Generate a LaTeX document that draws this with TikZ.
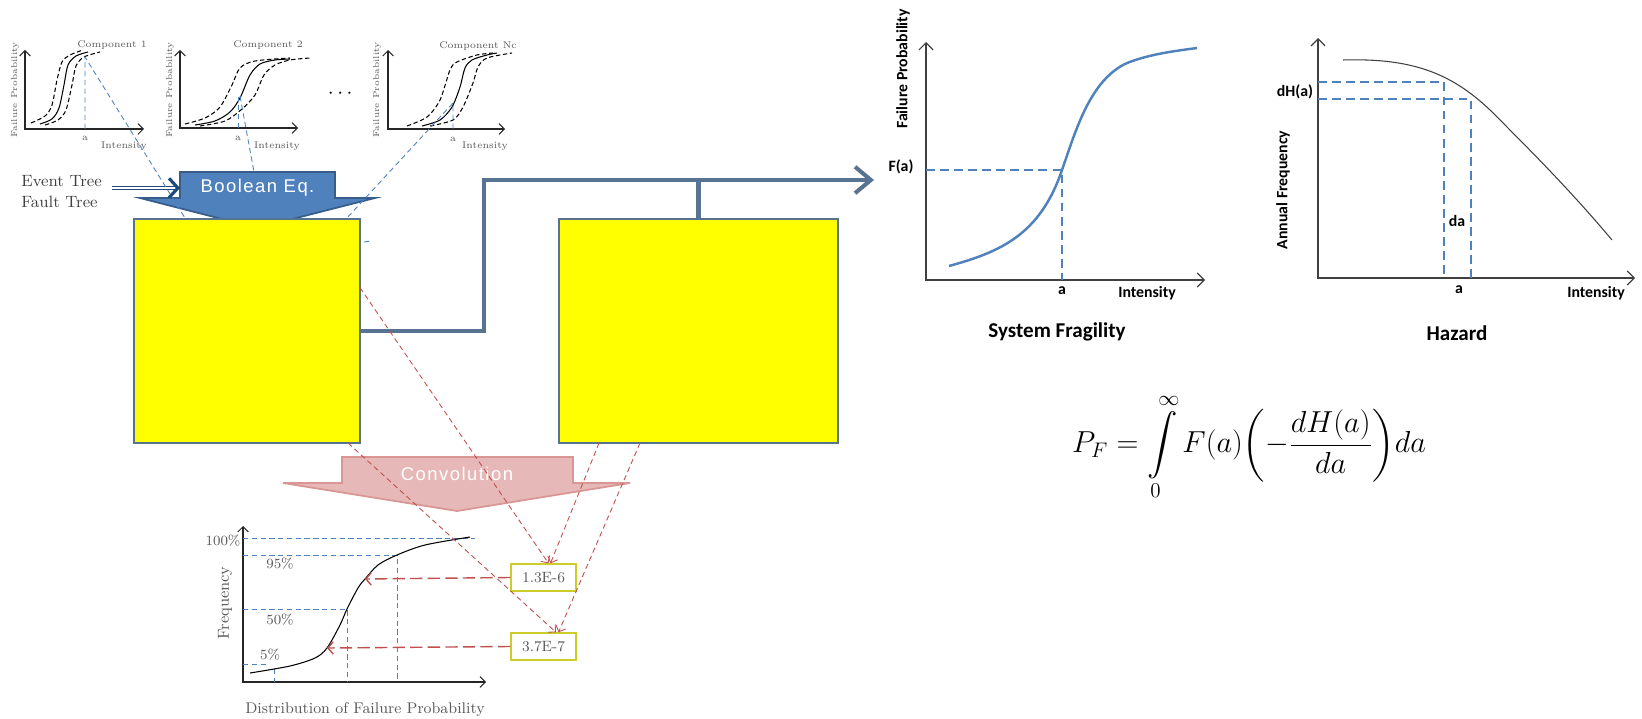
\documentclass[tikz,border=0pt]{standalone}
\usepackage{fontspec}
\usepackage{amsmath}
\usetikzlibrary{arrows.meta}
\newfontfamily\flechafont{Liberation Sans}[LetterSpace=8]
\newfontfamily\graffont{Carlito}
\definecolor{amarillo}{RGB}{255,255,0}
\definecolor{azul}{RGB}{79,129,189}
\definecolor{azulosc}{RGB}{56,93,138}
\definecolor{marino}{RGB}{31,73,125}
\definecolor{pizarra}{RGB}{88,114,145}
\definecolor{rosa}{RGB}{230,184,183}
\definecolor{rosaosc}{RGB}{217,150,148}
\definecolor{rojo}{RGB}{192,80,77}
\definecolor{oliva}{RGB}{205,205,40}
\definecolor{gris}{RGB}{89,89,89}

\begin{document}
\begin{tikzpicture}[x=0.02cm, y=-0.02cm,
  ejes/.style={{Straight Barb[length=3pt,width=6pt]}-{Straight Barb[length=3pt,width=6pt]}, line width=0.6pt, black!85},
  ejesg/.style={{Straight Barb[length=4pt,width=8pt]}-{Straight Barb[length=4pt,width=8pt]}, line width=0.7pt, black!75},
  curva/.style={line width=0.6pt},
  curvad/.style={line width=0.6pt, dash pattern=on 2.5pt off 1.5pt},
  guia/.style={azul, line width=0.5pt, dash pattern=on 3pt off 2pt},
  guiag/.style={azul, line width=0.7pt, dash pattern=on 5pt off 3pt},
  roja/.style={rojo, line width=0.5pt, dash pattern=on 3pt off 2pt, -{Straight Barb[length=3pt,width=6pt]}},
  rojag/.style={rojo, line width=0.8pt, dash pattern=on 7pt off 3pt, -{Straight Barb[length=3pt,width=7pt]}},
  caja/.style={draw=pizarra, line width=1pt, fill=amarillo, inner sep=0pt, outer sep=0pt},
  valor/.style={draw=oliva, line width=0.8pt, fill=white, minimum width=1.3cm, minimum height=0.54cm, inner sep=0pt, text=gris, font=\fontsize{8.5}{10}\selectfont},
  tpeq/.style={text=gris, inner sep=0pt, font=\fontsize{5.5}{6}\selectfont},
  tdist/.style={text=gris, inner sep=0pt, font=\fontsize{8}{9}\selectfont},
  tgraf/.style={inner sep=0pt, font=\graffont\bfseries\fontsize{9}{10}\selectfont},
  ttit/.style={inner sep=0pt, font=\graffont\bfseries\fontsize{12}{14}\selectfont},
  flujo/.style={pizarra, line width=2.3pt}]
\useasboundingbox (0,0) rectangle (1642,719);

% Componente 1
\draw[ejes] (25,50) -- (25,129) -- (144,129);
\draw[curvad] plot[smooth] coordinates {(31,123) (45,116) (52,105) (57,80) (62,62) (70,55) (83,50)};
\draw[curva] plot[smooth] coordinates {(40,124) (52,119) (59,108) (64,85) (68,65) (76,56) (88,52)};
\draw[curvad] plot[smooth] coordinates {(45,125) (58,120) (66,110) (72,85) (76,66) (84,57) (100,52)};
\node[tpeq] (c1) at (112,45) {Component 1};
\node[tpeq, rotate=90, font=\fontsize{4.8}{5}\selectfont] (fp1) at (15,90) {Failure Probability};
\node[tpeq] (a1) at (85,138) {a};
\node[tpeq] (in1) at (124,146) {Intensity};

% Componente 2
\draw[ejes] (180,50) -- (180,128) -- (298,128);
\draw[curvad] plot[smooth] coordinates {(185,124) (205,118) (220,107) (232,85) (240,68) (255,61) (290,58)};
\draw[curva] plot[smooth] coordinates {(195,125) (215,121) (230,112) (240,98) (250,75) (260,64) (275,60) (290,59)};
\draw[curvad] plot[smooth] coordinates {(200,126) (225,121) (242,109) (255,95) (264,75) (275,65) (290,60) (310,58)};
\node[tpeq] (c2) at (268,45) {Component 2};
\node[tpeq, rotate=90, font=\fontsize{4.8}{5}\selectfont] (fp2) at (170,90) {Failure Probability};
\node[tpeq] (a2) at (238,138) {a};
\node[tpeq] (in2) at (277,146) {Intensity};

\node[font=\fontsize{12}{12}\selectfont] (dots) at (342,94) {$\cdots$};

% Componente Nc
\draw[ejes] (388,50) -- (388,129) -- (505,129);
\draw[curvad] plot[smooth] coordinates {(407,126) (427,117) (440,100) (450,70) (457,62) (477,55) (493,53)};
\draw[curva] plot[smooth] coordinates {(422,126) (440,120) (452,107) (460,87) (465,68) (472,60) (487,55) (497,53)};
\draw[curvad] plot[smooth] coordinates {(430,126) (453,120) (463,107) (473,83) (478,67) (487,58) (512,53)};
\node[tpeq] (c3) at (478,46) {Component Nc};
\node[tpeq, rotate=90, font=\fontsize{4.8}{5}\selectfont] (fp3) at (377,90) {Failure Probability};
\node[tpeq] (a3) at (453,139) {a};
\node[tpeq] (in3) at (485,146) {Intensity};

% Flecha Boolean Eq.
\draw[fill=azul, draw=azulosc, line width=1pt] (180,172) -- (335,172) -- (335,198) -- (375,198)
  -- (257,228) -- (140,198) -- (180,198) -- cycle;
\node[text=white, font=\flechafont\fontsize{10.5}{12}\selectfont, minimum width=3.1cm, inner sep=0pt, outer sep=0pt] (bool) at (257.5,188) {Boolean Eq.};
\node[text=black!75, inner sep=0pt, anchor=west, font=\fontsize{9.3}{11}\selectfont] (et) at (21,181) {Event Tree};
\node[text=black!75, inner sep=0pt, anchor=west, font=\fontsize{9.3}{11}\selectfont] (ft) at (21,202) {Fault Tree};
\coordinate (tin) at (112,188);
\draw[marino, line width=0.6pt, double=white, double distance=1.1pt,
  -{Straight Barb[length=5pt,width=11pt,line width=1.8pt]}] (tin) -- (bool.west);

% Cajas
\node[caja, minimum width=4.52cm, minimum height=4.48cm] (lbox) at (247,331) {};
\node[caja, minimum width=5.58cm, minimum height=4.48cm] (rbox) at (698.5,331) {};

% Lineas guia azules
\draw[guia] (85,129) -- (85,57) -- (185,218);
\draw[guia] (238,128) -- (238,97);
\draw[guia] (240,96) -- (254,172);
\draw[guia] (453,129) -- (453,103) -- (347,218);
\draw[guia] (364,242) -- (371,241);

% Conector grueso
\coordinate (codo) at (484,180);
\coordinate (punta) at (874,180);
\draw[flujo, -{Straight Barb[length=9pt,width=15pt]}] (lbox.east) -| (codo) -- (punta);
\draw[flujo] (rbox.north) -- (rbox.north |- codo);

% Flecha Convolution
\draw[fill=rosa, draw=rosaosc, line width=1pt] (342,457) -- (573,457) -- (573,483) -- (630,483)
  -- (457,511) -- (283,483) -- (342,483) -- cycle;
\node[text=white, font=\flechafont\fontsize{10.5}{12}\selectfont, inner sep=0pt] (conv) at (457,474) {Convolution};

% Distribucion
\draw[ejes] (243,526) -- (243,682) -- (486,682);
\draw[guia] (243,538) -- (475,538);
\draw[guia] (243,555) -- (397,555) -- (397,682);
\draw[guia] (243,609) -- (347,609) -- (347,682);
\draw[guia] (243,664) -- (268,664);
\draw[guia] (274,669) -- (274,682);
\draw[curva] plot[smooth] coordinates {(250,673) (290,666) (315,658) (327,648) (340,625) (347,609) (358,588) (365,579) (378,565) (397,555) (425,545) (470,537)};
\node[tdist] (p100) at (223,541) {100\%};
\node[tdist] (p95) at (280,564) {95\%};
\node[tdist] (p50) at (280,620) {50\%};
\node[tdist] (p5) at (270,655) {5\%};
\node[tdist, rotate=90, font=\fontsize{9.1}{10}\selectfont] (freq) at (225,603) {Frequency};
\node[tdist, font=\fontsize{8.8}{10}\selectfont] (dist) at (365,710) {Distribution of Failure Probability};

% Valores
\node[valor] (v1) at (543.5,577.5) {1.3E-6};
\node[valor] (v2) at (543.5,646.5) {3.7E-7};
\coordinate (q1) at (365,579);
\coordinate (q2) at (327,648);
\draw[roja] (lbox.21) -- ([xshift=0.1cm]v1.north);
\draw[roja] ([xshift=-0.24cm]lbox.south east) -- ([xshift=0.25cm]v2.north);
\draw[roja] ([xshift=0.8cm]rbox.south west) -- ([xshift=0.14cm]v1.north);
\draw[roja] ([xshift=1.62cm]rbox.south west) -- ([xshift=0.3cm]v2.north);
\draw[rojag] (v1.west) -- (q1);
\draw[rojag] (v2.west) -- (q2);

% Fragilidad del sistema
\draw[ejesg] (926,42) -- (926,280) -- (1205,280);
\draw[guiag] (926,170) -- (1062,170) -- (1062,280);
\draw[azul, line width=1.4pt] (949,266) .. controls (1000,252) and (1040,235) .. (1062,170)
  .. controls (1076,130) and (1090,80) .. (1127,63) .. controls (1150,54) and (1175,51) .. (1197,48);
\node[tgraf, rotate=90] (ffp) at (903,69) {Failure Probability};
\node[tgraf] (fa) at (901,167) {F(a)};
\node[tgraf] (fa2) at (1062,291) {a};
\node[tgraf] (fin) at (1147,293) {Intensity};
\node[ttit] (sf) at (1057,332) {System Fragility};

% Peligro
\draw[ejesg] (1318,38) -- (1318,278) -- (1635,278);
\draw[guiag] (1318,82) -- (1444,82) -- (1444,278);
\draw[guiag] (1318,99) -- (1471,99) -- (1471,278);
\draw[black!75, line width=0.6pt] (1343,60) .. controls (1410,58) and (1450,72) .. (1490,110)
  .. controls (1530,150) and (1570,190) .. (1612,240);
\node[tgraf, rotate=90] (haf) at (1283,190) {Annual Frequency};
\node[tgraf] (dh) at (1295,92) {dH(a)};
\node[tgraf] (hda) at (1457,221) {da};
\node[tgraf] (ha) at (1459,290) {a};
\node[tgraf] (hin) at (1596,293) {Intensity};
\node[ttit] (hz) at (1457,333) {Hazard};

% Formula
\node[font=\fontsize{16.5}{20}\selectfont, inner sep=0pt] (pf) at (1249,447)
  {$\displaystyle P_F=\int\limits_0^\infty F(a)\biggl(-\frac{dH(a)}{da}\biggr)da$};

\end{tikzpicture}
\end{document}
